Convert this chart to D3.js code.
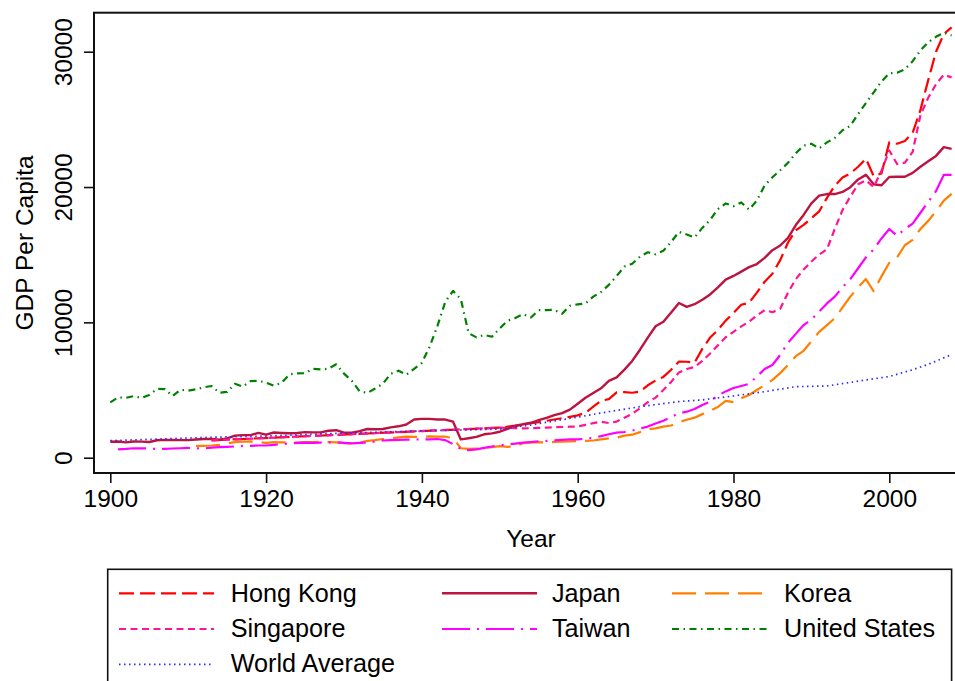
<!DOCTYPE html>
<html><head><meta charset="utf-8">
<script src="https://cdn.jsdelivr.net/npm/d3@7"></script>
<style>body{margin:0;background:#fff}svg{display:block}</style>
</head><body>
<svg id="chart" width="955" height="681"></svg>
<script>
// ---------- DATA ----------
const seriesNames = ["Hong Kong","Japan","Korea","Singapore","Taiwan","United States","World Average"];
const xTickValues = [1900,1920,1940,1960,1980,2000];
const yTickValues = [0,10000,20000,30000];

const hongKong = [[1913,1280],[1950,2220],[1951,2290],[1952,2380],[1953,2460],[1954,2550],[1955,2630],[1956,2730],[1957,2820],[1958,2920],[1959,3020],
[1960,3130],[1961,3320],[1962,3770],[1963,4210],[1964,4330],[1965,4830],[1966,4840],[1967,4800],[1968,4880],[1969,5350],
[1970,5700],[1971,5970],[1972,6500],[1973,7110],[1974,7090],[1975,7020],[1976,8040],[1977,8880],[1978,9440],[1979,10130],
[1980,10700],[1981,11300],[1982,11450],[1983,12200],[1984,13000],[1985,13600],[1986,14600],[1987,15900],[1988,16800],[1989,17200],
[1990,17700],[1991,18200],[1992,19200],[1993,20100],[1994,20700],[1995,21000],[1996,21500],[1997,22100],[1998,20800],[1999,21000],
[2000,23300],[2001,23200],[2002,23400],[2003,24000],[2004,25700],[2005,27900],[2006,30000],[2007,31300],[2008,31800]];

const japan = [[1900,1180],[1901,1200],[1902,1130],[1903,1200],[1904,1190],[1905,1160],[1906,1290],[1907,1320],[1908,1310],[1909,1300],
[1910,1300],[1911,1350],[1912,1380],[1913,1390],[1914,1330],[1915,1430],[1916,1630],[1917,1670],[1918,1670],[1919,1830],
[1920,1700],[1921,1860],[1922,1830],[1923,1810],[1924,1830],[1925,1890],[1926,1870],[1927,1870],[1928,1990],[1929,2030],
[1930,1850],[1931,1840],[1932,1960],[1933,2120],[1934,2100],[1935,2120],[1936,2240],[1937,2320],[1938,2450],[1939,2820],
[1940,2870],[1941,2870],[1942,2820],[1943,2820],[1944,2660],[1945,1350],[1946,1440],[1947,1540],[1948,1730],[1949,1800],
[1950,1920],[1951,2130],[1952,2340],[1953,2470],[1954,2580],[1955,2770],[1956,2950],[1957,3140],[1958,3290],[1959,3550],
[1960,3990],[1961,4430],[1962,4780],[1963,5130],[1964,5670],[1965,5930],[1966,6510],[1967,7150],[1968,7980],[1969,8870],
[1970,9710],[1971,10040],[1972,10730],[1973,11430],[1974,11150],[1975,11340],[1976,11670],[1977,12060],[1978,12590],[1979,13160],
[1980,13430],[1981,13750],[1982,14080],[1983,14310],[1984,14770],[1985,15330],[1986,15680],[1987,16250],[1988,17190],[1989,17940],
[1990,18790],[1991,19360],[1992,19480],[1993,19480],[1994,19640],[1995,19990],[1996,20560],[1997,20900],[1998,20200],[1999,20130],
[2000,20740],[2001,20760],[2002,20760],[2003,21050],[2004,21500],[2005,21900],[2006,22300],[2007,22950],[2008,22820]];

const korea = [[1911,870],[1912,880],[1913,900],[1914,950],[1915,1050],[1916,1150],[1917,1180],[1918,1200],[1919,1150],
[1920,1100],[1921,1150],[1922,1130],[1923,1130],[1924,1120],[1925,1150],[1926,1150],[1927,1180],[1928,1150],[1929,1130],
[1930,1080],[1931,1050],[1932,1100],[1933,1250],[1934,1300],[1935,1380],[1936,1430],[1937,1500],[1938,1560],[1939,1540],
[1940,1550],[1941,1570],[1942,1560],[1943,1550],[1944,1450],[1945,700],[1946,650],[1947,680],[1948,720],[1949,780],
[1950,850],[1951,800],[1952,850],[1953,1070],[1954,1110],[1955,1150],[1956,1120],[1957,1170],[1958,1190],[1959,1210],
[1960,1230],[1961,1250],[1962,1270],[1963,1350],[1964,1430],[1965,1480],[1966,1630],[1967,1700],[1968,1890],[1969,2100],
[1970,2170],[1971,2300],[1972,2380],[1973,2630],[1974,2800],[1975,2960],[1976,3220],[1977,3470],[1978,3750],[1979,4200],
[1980,4100],[1981,4400],[1982,4630],[1983,5000],[1984,5350],[1985,5750],[1986,6250],[1987,6850],[1988,7500],[1989,7900],
[1990,8600],[1991,9300],[1992,9800],[1993,10300],[1994,11100],[1995,11900],[1996,12600],[1997,13200],[1998,12300],[1999,13400],
[2000,14400],[2001,14800],[2002,15700],[2003,16100],[2004,16900],[2005,17500],[2006,18200],[2007,19000],[2008,19500]];

const singapore = [[1913,1280],[1950,2220],[1951,2200],[1952,2180],[1953,2160],[1954,2180],[1955,2200],[1956,2220],[1957,2250],[1958,2270],[1959,2290],
[1960,2310],[1961,2430],[1962,2550],[1963,2660],[1964,2560],[1965,2670],[1966,2950],[1967,3250],[1968,3650],[1969,4100],
[1970,4440],[1971,5000],[1972,5600],[1973,6300],[1974,6550],[1975,6700],[1976,7150],[1977,7700],[1978,8300],[1979,8900],
[1980,9300],[1981,9700],[1982,10050],[1983,10500],[1984,10900],[1985,10750],[1986,11000],[1987,12200],[1988,13200],[1989,13900],
[1990,14500],[1991,15000],[1992,15400],[1993,16900],[1994,18300],[1995,19300],[1996,20200],[1997,20500],[1998,20000],[1999,21200],
[2000,22700],[2001,21700],[2002,21800],[2003,22600],[2004,25300],[2005,26600],[2006,27600],[2007,28300],[2008,28100]];

const taiwan = [[1901,620],[1902,650],[1903,700],[1904,690],[1905,680],[1906,640],[1907,650],[1908,680],[1909,700],
[1910,720],[1911,700],[1912,680],[1913,750],[1914,780],[1915,800],[1916,830],[1917,870],[1918,880],[1919,900],
[1920,900],[1921,950],[1922,1000],[1923,1050],[1924,1100],[1925,1110],[1926,1100],[1927,1120],[1928,1130],[1929,1140],
[1930,1100],[1931,1060],[1932,1100],[1933,1120],[1934,1200],[1935,1270],[1936,1300],[1937,1310],[1938,1330],[1939,1340],
[1940,1360],[1941,1350],[1942,1380],[1943,1300],[1944,1000],[1945,650],[1946,560],[1947,620],[1948,720],[1949,830],
[1950,920],[1951,970],[1952,1040],[1953,1110],[1954,1160],[1955,1210],[1956,1240],[1957,1280],[1958,1310],[1959,1350],
[1960,1350],[1961,1400],[1962,1470],[1963,1590],[1964,1730],[1965,1850],[1966,1900],[1967,2000],[1968,2150],[1969,2300],
[1970,2520],[1971,2730],[1972,3000],[1973,3290],[1974,3400],[1975,3600],[1976,3900],[1977,4150],[1978,4600],[1979,4900],
[1980,5150],[1981,5300],[1982,5450],[1983,6000],[1984,6550],[1985,6850],[1986,7600],[1987,8500],[1988,9150],[1989,9800],
[1990,10200],[1991,10800],[1992,11400],[1993,11900],[1994,12600],[1995,13200],[1996,14000],[1997,14800],[1998,15400],[1999,16200],
[2000,16900],[2001,16400],[2002,16900],[2003,17300],[2004,18100],[2005,18900],[2006,19700],[2007,20900],[2008,20900]];

const unitedStates = [[1900,4090],[1901,4460],[1902,4420],[1903,4550],[1904,4410],[1905,4640],[1906,5080],[1907,5070],[1908,4560],[1909,5020],
[1910,4960],[1911,5050],[1912,5200],[1913,5300],[1914,4800],[1915,4860],[1916,5460],[1917,5250],[1918,5660],[1919,5680],
[1920,5550],[1921,5320],[1922,5540],[1923,6160],[1924,6230],[1925,6240],[1926,6560],[1927,6520],[1928,6570],[1929,6900],
[1930,6210],[1931,5690],[1932,4910],[1933,4780],[1934,5110],[1935,5470],[1936,6200],[1937,6430],[1938,6130],[1939,6560],
[1940,7010],[1941,8210],[1942,9740],[1943,11520],[1944,12330],[1945,11710],[1946,9200],[1947,8890],[1948,9070],[1949,8940],
[1950,9560],[1951,10120],[1952,10320],[1953,10610],[1954,10360],[1955,10900],[1956,10910],[1957,10920],[1958,10630],[1959,11230],
[1960,11330],[1961,11400],[1962,11900],[1963,12240],[1964,12770],[1965,13420],[1966,14130],[1967,14330],[1968,14860],[1969,15180],
[1970,15030],[1971,15300],[1972,15940],[1973,16690],[1974,16490],[1975,16280],[1976,16980],[1977,17570],[1978,18370],[1979,18790],
[1980,18580],[1981,18860],[1982,18330],[1983,19000],[1984,20120],[1985,20720],[1986,21240],[1987,21790],[1988,22500],[1989,23060],
[1990,23200],[1991,22850],[1992,23300],[1993,23620],[1994,24190],[1995,24520],[1996,25400],[1997,26200],[1998,27000],[1999,27800],
[2000,28400],[2001,28450],[2002,28700],[2003,29300],[2004,30100],[2005,30700],[2006,31100],[2007,31400],[2008,31200]];

const worldAverage = [[1900,1260],[1913,1510],[1920,1600],[1929,1800],[1940,1980],[1950,2110],[1954,2420],[1960,3000],[1964,3400],
[1968,3770],[1973,4150],[1976,4270],[1980,4560],[1984,4880],[1988,5250],[1992,5300],[1997,5740],[2000,6000],[2003,6500],[2005,6900],[2008,7620]];

// ---------- STYLES ----------
const seriesData = [hongKong, japan, korea, singapore, taiwan, unitedStates, worldAverage];
const colors = ["#ff0000","#bc1440","#ff8000","#ff1493","#ff00ff","#008000","#2a2aff"];
const dashes = ["15,6", null, "24,9", "7,4.5", "28,7,2,7", "7,4.5,1.5,4.5", "1.5,3.5"];
const widths = [2.2, 2.4, 2.2, 2.2, 2.2, 2.2, 1.7];

const FONT = "'Liberation Sans', Arial, Helvetica, sans-serif";
const svg = d3.select("#chart").style("font-family", FONT);
svg.append("rect").attr("width",955).attr("height",681).attr("fill","#fff");

const frame = {left:94, top:12.7, right:968, bottom:473};
const x = d3.scaleLinear().domain([1900,2008]).range([110.3,951.6]);
const y = d3.scaleLinear().domain([0,30000]).range([457.7,51.7]);

// plot frame
svg.append("rect").attr("x",frame.left).attr("y",frame.top)
  .attr("width",frame.right-frame.left).attr("height",frame.bottom-frame.top)
  .attr("fill","none").attr("stroke","#111").attr("stroke-width",2);

// lines
const line = d3.line().x(d=>x(d[0])).y(d=>y(d[1]));
const g = svg.append("g");
seriesData.forEach((s,i)=>{
  g.append("path").datum(s).attr("d",line).attr("fill","none")
   .attr("stroke",colors[i]).attr("stroke-width",widths[i])
   .attr("stroke-dasharray",dashes[i]).attr("stroke-linejoin","round");
});

// y axis
const yAxis = svg.append("g").attr("transform",`translate(${frame.left},0)`)
  .call(d3.axisLeft(y).tickValues(yTickValues).tickSize(10).tickFormat(d3.format("d")));
yAxis.select(".domain").remove();
yAxis.selectAll(".tick line").attr("stroke","#111").attr("stroke-width",1.6);
yAxis.selectAll(".tick text").attr("transform","rotate(-90)").attr("x",0).attr("y",-22.3).attr("dy",0)
  .attr("text-anchor","middle").attr("font-size",24.5).attr("font-family",FONT).attr("fill","#000");

// x axis
const xAxis = svg.append("g").attr("transform",`translate(0,${frame.bottom})`)
  .call(d3.axisBottom(x).tickValues(xTickValues).tickSize(10).tickFormat(d3.format("d")));
xAxis.select(".domain").remove();
xAxis.selectAll(".tick line").attr("stroke","#111").attr("stroke-width",1.6);
xAxis.selectAll(".tick text").attr("y",33.5).attr("dy",0)
  .attr("font-size",24.5).attr("font-family",FONT).attr("fill","#000");

// axis titles
svg.append("text").attr("x",(frame.left+frame.right)/2).attr("y",546.7).attr("text-anchor","middle")
  .attr("font-size",24.5).text("Year");
svg.append("text").attr("transform",`translate(33,${(frame.top+frame.bottom)/2}) rotate(-90)`)
  .attr("text-anchor","middle").attr("font-size",24.5).text("GDP Per Capita");

// legend
const legend = svg.append("g");
legend.append("rect").attr("x",107.7).attr("y",569.3).attr("width",843.9).attr("height",200)
  .attr("fill","#fff").attr("stroke","#111").attr("stroke-width",1.6);
const colSample = [119,442,672], colText = [230.7,552,784];
const rowLine = [593.3,629,664.3], rowText = [601.7,637,672.3];
seriesNames.forEach((name,i)=>{
  const c = i%3, r = Math.floor(i/3);
  legend.append("line").attr("x1",colSample[c]).attr("x2",colSample[c]+95)
    .attr("y1",rowLine[r]).attr("y2",rowLine[r])
    .attr("stroke",colors[i]).attr("stroke-width",widths[i]).attr("stroke-dasharray",dashes[i]);
  legend.append("text").attr("x",colText[c]).attr("y",rowText[r]).attr("font-size",25.2).text(name);
});
</script>
</body></html>
